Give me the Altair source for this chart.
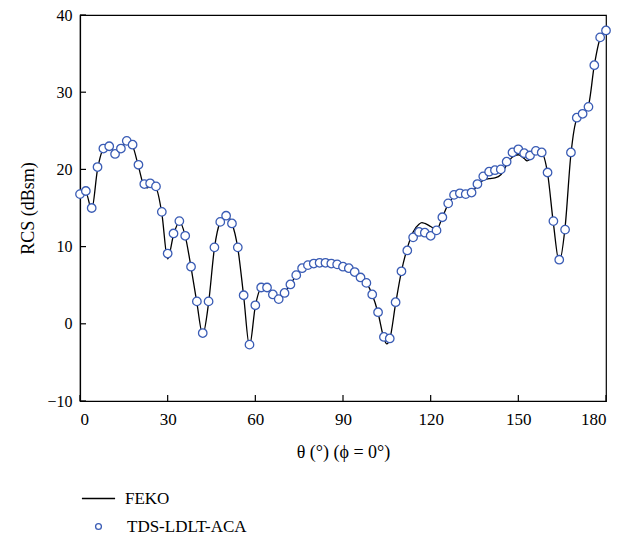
import altair as alt
import pandas as pd

# TDS-LDLT-ACA samples (every 2 degrees)
theta_pts = list(range(0, 181, 2))
rcs_pts = [16.8, 17.2, 15.0, 20.3, 22.7, 23.0, 22.0, 22.7, 23.7, 23.2,
           20.6, 18.1, 18.2, 17.8, 14.5, 9.1, 11.7, 13.3, 11.4, 7.4,
           2.9, -1.2, 2.9, 9.9, 13.2, 14.0, 13.0, 9.9, 3.7, -2.7,
           2.4, 4.7, 4.7, 3.8, 3.2, 4.0, 5.1, 6.3, 7.2, 7.6,
           7.8, 7.9, 7.9, 7.8, 7.7, 7.4, 7.2, 6.7, 6.0, 5.3,
           3.8, 1.5, -1.7, -1.9, 2.8, 6.8, 9.5, 11.2, 11.9, 11.8,
           11.4, 12.1, 13.8, 15.6, 16.7, 16.9, 16.8, 17.0, 18.1, 19.1,
           19.7, 19.9, 20.0, 21.0, 22.2, 22.6, 22.1, 21.8, 22.4, 22.2,
           19.6, 13.3, 8.3, 12.2, 22.2, 26.7, 27.2, 28.1, 33.5, 37.1, 38.0]

# FEKO reference curve
theta_feko = [0, 2, 4, 6, 8, 10, 12, 14, 16, 18,
              20, 22, 23, 24, 26, 28, 30, 32, 34, 36,
              38, 40, 42, 44, 46, 48, 50, 52, 54, 56,
              58, 60, 62, 64, 66, 68, 70, 72, 74, 76,
              78, 80, 82, 84, 86, 88, 90, 92, 94, 96,
              98, 100, 102, 104, 105, 106, 108, 110, 112, 114,
              116, 117, 118, 120, 122, 124, 126, 128, 130, 132,
              134, 136, 138, 140, 142, 144, 146, 148, 150, 152,
              153, 154, 156, 158, 160, 162, 164, 166, 168, 170,
              172, 174, 176, 178, 180]
rcs_feko = [16.8, 17.0, 14.8, 20.0, 22.6, 22.9, 22.2, 22.6, 23.6, 23.0,
            20.4, 17.8, 17.6, 18.0, 17.6, 14.3, 8.4, 11.5, 13.2, 11.4,
            7.3, 2.7, -1.4, 2.7, 9.8, 13.2, 14.0, 13.0, 9.8, 3.6,
            -2.9, 2.3, 4.6, 4.7, 3.8, 3.2, 4.0, 5.1, 6.3, 7.2,
            7.6, 7.8, 7.9, 7.9, 7.8, 7.7, 7.4, 7.2, 6.7, 6.0,
            5.3, 3.8, 1.4, -1.9, -2.6, -2.0, 2.6, 6.8, 9.8, 11.9,
            12.9, 13.1, 13.0, 12.6, 12.2, 13.8, 15.5, 16.5, 16.8, 16.7,
            17.0, 17.9, 18.6, 18.8, 18.9, 19.3, 20.6, 21.6, 21.9, 21.4,
            21.1, 21.3, 22.2, 22.1, 19.5, 13.0, 8.0, 12.5, 22.0, 26.5,
            27.2, 28.3, 33.5, 37.0, 38.0]

x_ticks = [0, 30, 60, 90, 120, 150, 180]
y_ticks = [-10, 0, 10, 20, 30, 40]

FONT = "Times New Roman, Liberation Serif, serif"
BLUE = "#3a5cb5"
W, H = 526, 386

df_pts = pd.DataFrame({"theta": theta_pts, "rcs": rcs_pts, "s2": "TDS-LDLT-ACA"})
df_feko = pd.DataFrame({"theta": theta_feko, "rcs": rcs_feko, "s": "FEKO"})
df_xt = pd.DataFrame({"theta": x_ticks})
df_yt = pd.DataFrame({"rcs": y_ticks})

xscale = alt.Scale(domain=[0, 180], nice=False, zero=False)
yscale = alt.Scale(domain=[-10, 40], nice=False, zero=False)

xaxis = alt.Axis(values=x_ticks, title="θ (°) (ϕ = 0°)", ticks=False, grid=False,
                 labelFont=FONT, labelFontSize=17, labelColor="black", labelPadding=10,
                 titleFont=FONT, titleFontSize=18, titleFontWeight="normal",
                 titleColor="black", titlePadding=16, domainColor="black", domainWidth=1.2)
yaxis = alt.Axis(values=y_ticks, title="RCS (dBsm)", ticks=False, grid=False,
                 labelFont=FONT, labelFontSize=16, labelColor="black", labelPadding=8,
                 titleFont=FONT, titleFontSize=18, titleFontWeight="normal",
                 titleColor="black", titlePadding=9, domainColor="black", domainWidth=1.2)

line = alt.Chart(df_feko).mark_line(interpolate="monotone", strokeWidth=1.3).encode(
    x=alt.X("theta:Q", scale=xscale, axis=xaxis),
    y=alt.Y("rcs:Q", scale=yscale, axis=yaxis),
    color=alt.Color("s:N", scale=alt.Scale(domain=["FEKO"], range=["black"]),
                    legend=alt.Legend(orient="none", legendX=1, legendY=H + 80,
                                      title=None, symbolType="stroke", symbolSize=1100,
                                      symbolStrokeWidth=1.5, labelFont=FONT,
                                      labelFontSize=17, labelColor="black",
                                      labelOffset=9, padding=0)),
)

pts = alt.Chart(df_pts).mark_point(filled=True, fill="white",
                                    strokeWidth=1.3, size=72, opacity=1).encode(
    x=alt.X("theta:Q", scale=xscale),
    y=alt.Y("rcs:Q", scale=yscale),
    stroke=alt.Stroke("s2:N", scale=alt.Scale(domain=["TDS-LDLT-ACA"], range=[BLUE]),
                      legend=alt.Legend(orient="none", legendX=10, legendY=H + 117,
                                        title=None, symbolType="circle", symbolSize=34,
                                        symbolFillColor="white",
                                        symbolStrokeWidth=1.3, labelFont=FONT,
                                        labelFontSize=17, labelColor="black",
                                        labelOffset=20, padding=0)),
)

xt = alt.Chart(df_xt).mark_rule(color="black", strokeWidth=1.2).encode(
    x=alt.X("theta:Q", scale=xscale),
    y=alt.value(H), y2=alt.value(H - 6),
)
yt = alt.Chart(df_yt).mark_rule(color="black", strokeWidth=1.2).encode(
    y=alt.Y("rcs:Q", scale=yscale),
    x=alt.value(0), x2=alt.value(6),
)

chart = alt.layer(xt, yt, line, pts).properties(
    width=W, height=H,
    autosize=alt.AutoSizeParams(type="none"),
    padding={"left": 72, "top": 7, "right": 8, "bottom": 136},
    background="white",
).configure_view(stroke="black", strokeWidth=1.2)

chart.save("out.html", embed_options={"renderer": "svg", "actions": False})
